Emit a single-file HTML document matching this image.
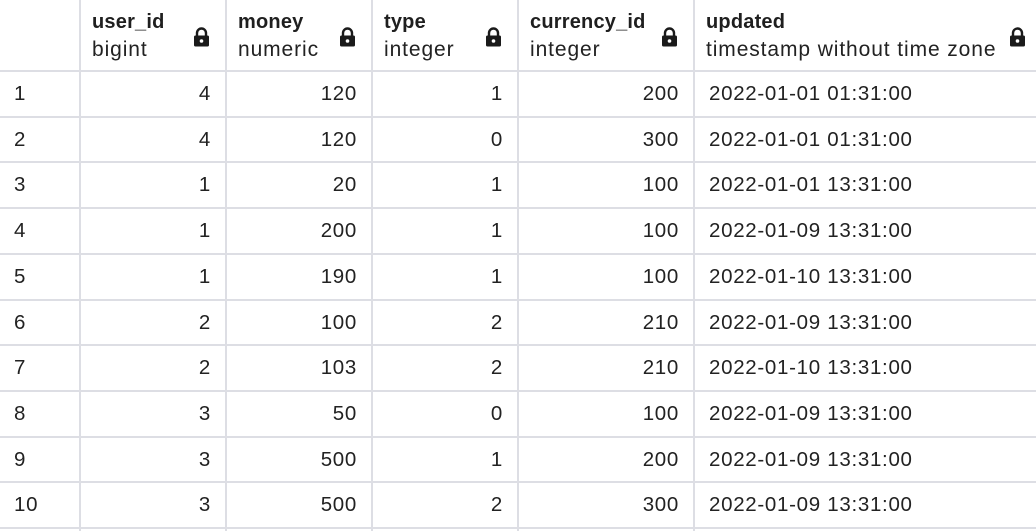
<!DOCTYPE html>
<html><head><meta charset="utf-8"><style>
body{margin:0;width:1036px;height:531px;background:#fff;overflow:hidden;font-family:"Liberation Sans",sans-serif;color:#222}
.c{position:absolute;font-size:20.5px;line-height:24px;letter-spacing:0.7px}
.vl{position:absolute;top:0;width:2px;height:531px;background:#dddee4}
.hl{position:absolute;left:0;width:1036px;height:2px;background:#dddee4}
.h{position:absolute;top:8px;font-size:21px;line-height:28px;letter-spacing:0.9px;white-space:nowrap}
.h b{display:block;font-weight:bold;color:#1f1f1f;font-size:20px;letter-spacing:0.2px}
.lock{position:absolute;top:27px;width:17px;height:20px}
</style></head><body>
<div id="grid"></div>
<script>
const headers=[["user_id","bigint",80,226],["money","numeric",226,372],["type","integer",372,518],["currency_id","integer",518,694],["updated","timestamp without time zone",694,1036]];
const rows=[[4,120,1,200,"2022-01-01 01:31:00"],[4,120,0,300,"2022-01-01 01:31:00"],[1,20,1,100,"2022-01-01 13:31:00"],[1,200,1,100,"2022-01-09 13:31:00"],[1,190,1,100,"2022-01-10 13:31:00"],[2,100,2,210,"2022-01-09 13:31:00"],[2,103,2,210,"2022-01-10 13:31:00"],[3,50,0,100,"2022-01-09 13:31:00"],[3,500,1,200,"2022-01-09 13:31:00"],[3,500,2,300,"2022-01-09 13:31:00"]];
const g=document.getElementById('grid');
function add(cls,style,html){const d=document.createElement('div');d.className=cls;d.style.cssText=style;if(html!==undefined)d.innerHTML=html;g.appendChild(d);return d;}
[79,225,371,517,693].forEach(x=>{const d=add('vl','left:'+x+'px');

});
const rh=45.7;
for(let i=0;i<=10;i++){const d=add('hl','top:'+(70+i*rh)+'px');

}
headers.forEach((h,i)=>{const d=add('h','left:'+(h[2]+12)+'px','<b>'+h[0]+'</b>'+h[1]);


const lx=(i===4?1009:h[3]-33);
const l=add('lock','left:'+lx+'px','<svg width="17" height="20" viewBox="0 0 17 20"><path d="M4 9V6a4.5 4.5 0 0 1 9 0v3" fill="none" stroke="#1a1a1a" stroke-width="2.4"/><rect x="1" y="8.5" width="15" height="11" rx="1.5" fill="#1a1a1a"/><circle cx="8.5" cy="14" r="1.8" fill="#fff"/></svg>');

});
rows.forEach((r,i)=>{const top=70+i*rh+12;
const n=add('c','left:14px;top:'+top+'px',String(i+1));


for(let j=0;j<4;j++){const right=1036-(headers[j][3]-15);
const d=add('c','right:'+right+'px;top:'+top+'px',String(r[j]));

}
const d=add('c','left:709px;top:'+top+'px',r[4]);

});
</script>
</body></html>
